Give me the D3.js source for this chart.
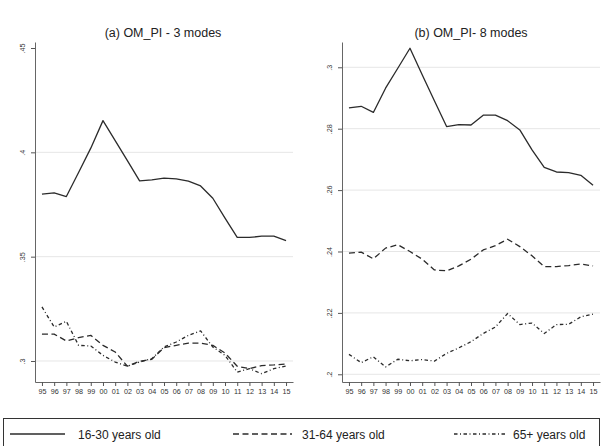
<!DOCTYPE html>
<html>
<head>
<meta charset="utf-8">
<script src="https://cdn.jsdelivr.net/npm/d3@7"></script>
<style>
  html, body { margin: 0; padding: 0; background: #fff; }
  svg { display: block; font-family: "Liberation Sans", Arial, sans-serif; }
</style>
</head>
<body>
<svg id="chart" width="601" height="446"></svg>
<script>
// Years shown on the x axis (two-digit labels)
const years = ["95","96","97","98","99","00","01","02","03","04","05","06","07","08","09","10","11","12","13","14","15"];

// Panel (a): OM_PI - 3 modes
const a_young  = [0.3800,0.3806,0.3788,0.3903,0.4020,0.4152,0.4056,0.3960,0.3863,0.3868,0.3876,0.3873,0.3862,0.3839,0.3780,0.3685,0.3592,0.3592,0.3598,0.3598,0.3577];
const a_middle = [0.3129,0.3129,0.3096,0.3112,0.3123,0.3075,0.3043,0.2975,0.2999,0.3008,0.3064,0.3075,0.3086,0.3086,0.3075,0.3038,0.2975,0.2963,0.2978,0.2981,0.2986];
const a_old    = [0.3259,0.3163,0.3190,0.3075,0.3072,0.3027,0.2995,0.2975,0.2995,0.3011,0.3067,0.3091,0.3123,0.3144,0.3067,0.3027,0.2947,0.2963,0.2939,0.2963,0.2976];

// Panel (b): OM_PI- 8 modes
const b_young  = [0.2868,0.2873,0.2853,0.2932,0.2997,0.3062,0.2976,0.2891,0.2807,0.2813,0.2812,0.2844,0.2844,0.2826,0.2796,0.2731,0.2674,0.2659,0.2657,0.2648,0.2616];
const b_middle = [0.2395,0.2398,0.2376,0.2411,0.2422,0.2400,0.2375,0.2340,0.2337,0.2353,0.2375,0.2405,0.2419,0.2440,0.2416,0.2386,0.2351,0.2351,0.2354,0.2359,0.2353];
const b_old    = [0.2065,0.2038,0.2057,0.2024,0.2049,0.2044,0.2048,0.2043,0.2068,0.2086,0.2106,0.2133,0.2154,0.2198,0.2162,0.2167,0.2133,0.2162,0.2163,0.2187,0.2196];

// Y tick values and their labels
const a_ticks = [0.30, 0.35, 0.40, 0.45];
const a_tickLabels = [".3", ".35", ".4", ".45"];
const b_ticks = [0.20, 0.22, 0.24, 0.26, 0.28, 0.30];
const b_tickLabels = [".2", ".22", ".24", ".26", ".28", ".3"];

const seriesNames = ["16-30 years old", "31-64 years old", "65+ years old"];
const dashes = [null, "6,3.5", "3.5,2.5,1,2.5"];
const lineColor = "#2b2b2b";

const svg = d3.select("#chart");

const panels = [
  { title: "(a) OM_PI - 3 modes", cx: 163, x0: 35, x1: 293,
    domain: [0.28993, 0.45288], ticks: a_ticks, labels: a_tickLabels,
    grid: [0.30, 0.35, 0.40], series: [a_young, a_middle, a_old] },
  { title: "(b) OM_PI- 8 modes", cx: 471, x0: 342, x1: 600,
    domain: [0.19749, 0.30824], ticks: b_ticks, labels: b_tickLabels,
    grid: b_ticks, series: [b_young, b_middle, b_old] }
];

panels.forEach(p => {
  const g = svg.append("g");
  const x = d3.scaleLinear().domain([-0.57, 20.57]).range([p.x0, p.x1]);
  const y = d3.scaleLinear().domain(p.domain).range([382, 42]);

  // horizontal gridlines
  g.selectAll("line.grid").data(p.grid).join("line")
    .attr("x1", p.x0).attr("x2", p.x1)
    .attr("y1", d => y(d)).attr("y2", d => y(d))
    .attr("stroke", "#e6e6e6").attr("stroke-width", 1);

  // x axis
  const xAxis = d3.axisBottom(x)
    .tickValues(d3.range(years.length))
    .tickFormat(i => years[i])
    .tickSize(4).tickSizeOuter(0).tickPadding(3);
  const gx = g.append("g").attr("transform", "translate(0,382)").call(xAxis);
  gx.select(".domain").attr("stroke", "#666");
  gx.selectAll(".tick line").attr("stroke", "#555");
  gx.selectAll(".tick text").attr("font-size", 7.2).attr("fill", "#333")
    .attr("font-family", "Liberation Sans, Arial, sans-serif");

  // y axis with rotated labels
  const yAxis = d3.axisLeft(y)
    .tickValues(p.ticks)
    .tickFormat((d, i) => p.labels[i])
    .tickSize(4).tickSizeOuter(0).tickPadding(0);
  const gy = g.append("g").attr("transform", `translate(${p.x0},0)`).call(yAxis);
  gy.select(".domain").attr("stroke", "#666");
  gy.selectAll(".tick line").attr("stroke", "#555");
  gy.selectAll(".tick text")
    .attr("font-size", 7.2).attr("fill", "#333")
    .attr("font-family", "Liberation Sans, Arial, sans-serif")
    .attr("text-anchor", "middle")
    .attr("x", 0).attr("dy", 0)
    .attr("transform", "translate(-10,0) rotate(-90)");

  // title
  g.append("text").attr("x", p.cx).attr("y", 37)
    .attr("text-anchor", "middle").attr("font-size", 12.5).attr("fill", "#222")
    .text(p.title);

  // series lines
  const line = d3.line().x((d, i) => x(i)).y(d => y(d));
  p.series.forEach((s, k) => {
    g.append("path").datum(s)
      .attr("d", line)
      .attr("fill", "none")
      .attr("stroke", lineColor)
      .attr("stroke-width", 1.3)
      .attr("stroke-linejoin", "round")
      .attr("stroke-dasharray", dashes[k]);
  });
});

// legend box
const lg = svg.append("g");
lg.append("rect").attr("x", 3.5).attr("y", 418.5).attr("width", 596).attr("height", 40)
  .attr("fill", "#fff").attr("stroke", "#333").attr("stroke-width", 1);

const legendItems = [
  { x0: 10, x1: 65, tx: 78 },
  { x0: 233, x1: 292, tx: 302 },
  { x0: 454, x1: 507, tx: 513 }
];
legendItems.forEach((it, k) => {
  lg.append("line").attr("x1", it.x0).attr("x2", it.x1).attr("y1", 434).attr("y2", 434)
    .attr("stroke", lineColor).attr("stroke-width", 1.3)
    .attr("stroke-dasharray", dashes[k]);
  lg.append("text").attr("x", it.tx).attr("y", 438.5)
    .attr("font-size", 12).attr("fill", "#222").text(seriesNames[k]);
});
</script>
</body>
</html>
